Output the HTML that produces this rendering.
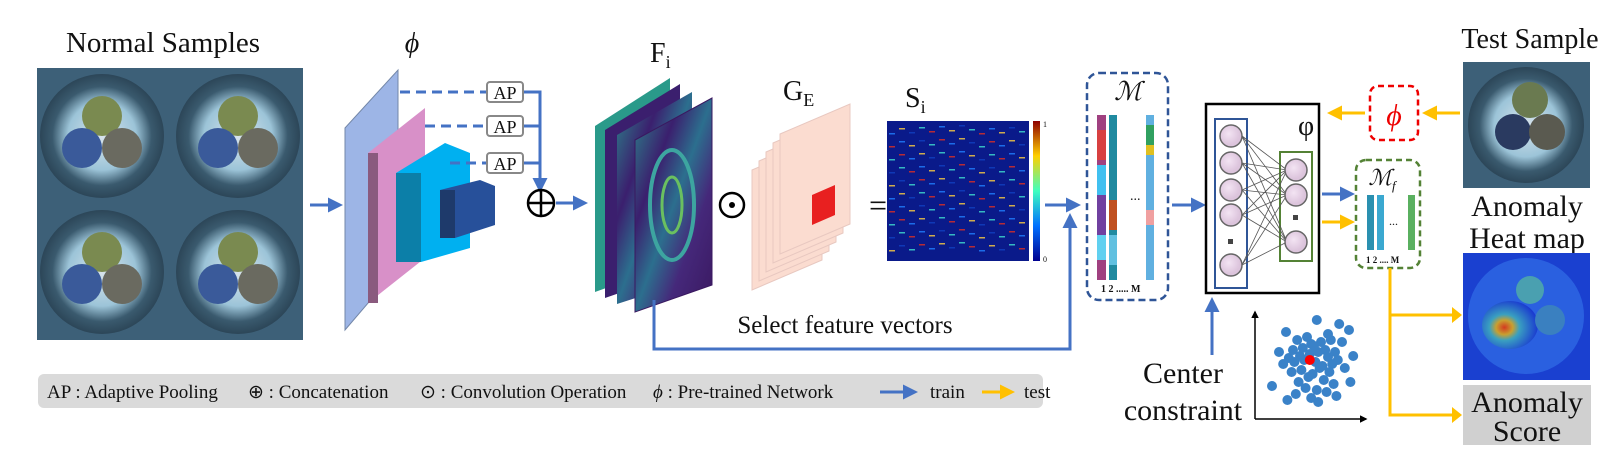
<!DOCTYPE html>
<html><head><meta charset="utf-8"><style>
html,body{margin:0;padding:0;background:#fff;width:1605px;height:464px;overflow:hidden}
svg{display:block}
text{font-family:"Liberation Serif",serif;fill:#111}
</style></head><body>
<svg id="fig" width="1605" height="464" viewBox="0 0 1605 464">
<defs>
<marker id="ab" viewBox="0 0 10 10" refX="8" refY="5" markerWidth="5" markerHeight="5" orient="auto"><path d="M0,0L10,5L0,10z" fill="#4472c4"/></marker>
<marker id="ay" viewBox="0 0 10 10" refX="8" refY="5" markerWidth="5" markerHeight="5" orient="auto"><path d="M0,0L10,5L0,10z" fill="#ffc000"/></marker>
<marker id="ak" viewBox="0 0 10 10" refX="8" refY="5" markerWidth="5" markerHeight="5" orient="auto"><path d="M0,0L10,5L0,10z" fill="#000"/></marker>
<radialGradient id="cable" cx="50%" cy="50%" r="50%"><stop offset="0" stop-color="#d8e4ec"/><stop offset="0.55" stop-color="#9cc4d8"/><stop offset="0.8" stop-color="#3a5a6e"/><stop offset="1" stop-color="#2c4658"/></radialGradient>
<linearGradient id="vir" x1="0" y1="0" x2="1" y2="1"><stop offset="0" stop-color="#2a8a8c"/><stop offset="0.3" stop-color="#3b1f6e"/><stop offset="0.5" stop-color="#2c6f8e"/><stop offset="0.7" stop-color="#45287a"/><stop offset="1" stop-color="#3a1860"/></linearGradient>
<linearGradient id="jet" x1="0" y1="1" x2="0" y2="0"><stop offset="0" stop-color="#00008f"/><stop offset="0.25" stop-color="#0070ff"/><stop offset="0.5" stop-color="#40ffbf"/><stop offset="0.75" stop-color="#ffd000"/><stop offset="1" stop-color="#8f0000"/></linearGradient>
<radialGradient id="heat" cx="40%" cy="55%" r="60%"><stop offset="0" stop-color="#d43a20"/><stop offset="0.25" stop-color="#c8a030"/><stop offset="0.45" stop-color="#3aa0c0"/><stop offset="1" stop-color="#1a3ad0"/></radialGradient>
<radialGradient id="node" cx="40%" cy="40%"><stop offset="0" stop-color="#f3e4f3"/><stop offset="1" stop-color="#dcc4dc"/></radialGradient>
</defs>

<text x="163" y="52" font-size="29" text-anchor="middle">Normal Samples</text>
<g>
<rect x="37" y="68" width="266" height="272" fill="#3d6078"/>
<g id="cells"></g>
</g>
<line x1="310" y1="205" x2="340" y2="205" stroke="#4472c4" stroke-width="3" marker-end="url(#ab)"/>

<text x="412" y="52" font-size="28" font-style="italic" text-anchor="middle">ϕ</text>
<g>
<polygon points="345,128 398,70 398,268 345,330" fill="#9db5e6" stroke="#7387a8"/>
<polygon points="368,153 425,108 425,258 368,303" fill="#d890c8"/>
<polygon points="368,153 378,153 378,303 368,303" fill="#8a5a7e"/>
<polygon points="396,173 445,143 470,153 470,248 421,262 396,262" fill="#00b0f0"/>
<rect x="396" y="173" width="25" height="89" fill="#0c7fa8"/>
<polygon points="440,190 480,180 495,186 495,225 455,238 440,238" fill="#27509a"/>
<rect x="440" y="190" width="15" height="48" fill="#1e3a6b"/>
</g>
<g stroke="#4472c4" stroke-width="3" fill="none">
<line x1="400" y1="92" x2="486" y2="92" stroke-dasharray="10,6"/>
<line x1="425" y1="126" x2="486" y2="126" stroke-dasharray="10,6"/>
<line x1="450" y1="163" x2="486" y2="163" stroke-dasharray="10,6"/>
<path d="M523,92H540V190" marker-end="url(#ab)"/>
<path d="M523,126H540M523,163H540"/>
</g>
<g font-size="18" text-anchor="middle">
<rect x="487" y="82" width="36" height="20" rx="3" fill="#fff" stroke="#888" stroke-width="2"/><text x="505" y="99">AP</text>
<rect x="487" y="116" width="36" height="20" rx="3" fill="#fff" stroke="#888" stroke-width="2"/><text x="505" y="133">AP</text>
<rect x="487" y="153" width="36" height="20" rx="3" fill="#fff" stroke="#888" stroke-width="2"/><text x="505" y="170">AP</text>
</g>
<g stroke="#000" stroke-width="2.5" fill="none"><circle cx="541" cy="203" r="13"/><line x1="528" y1="203" x2="554" y2="203"/><line x1="541" y1="190" x2="541" y2="216"/></g>
<line x1="556" y1="203" x2="585" y2="203" stroke="#4472c4" stroke-width="3" marker-end="url(#ab)"/>

<text x="650" y="62" font-size="28">F<tspan font-size="18" dy="6">i</tspan></text>
<g>
<polygon points="595,126 670,78 670,265 595,292" fill="#2a9a8a"/>
<polygon points="605,130 680,84 680,272 605,298" fill="#3b1f6e"/>
<polygon points="617,135 692,92 692,280 617,304" fill="url(#vir)"/>
<polygon points="635,140 712,98 712,285 635,312" fill="url(#vir)" stroke="#3a1860"/>
<ellipse cx="672" cy="205" rx="22" ry="55" fill="none" stroke="#3da5a0" stroke-width="4"/>
<ellipse cx="672" cy="205" rx="10" ry="28" fill="none" stroke="#6ac060" stroke-width="3"/>
</g>
<g><circle cx="732" cy="205" r="12" fill="none" stroke="#000" stroke-width="2.5"/><circle cx="732" cy="205" r="3" fill="#000"/></g>

<text x="783" y="100" font-size="28">G<tspan font-size="18" dy="6">E</tspan></text>
<g id="kernel"></g>
<text x="878" y="216" font-size="32" text-anchor="middle">=</text>

<text x="905" y="107" font-size="28">S<tspan font-size="18" dy="6">i</tspan></text>
<g>
<rect x="887" y="121" width="142" height="140" fill="#0a1a8a"/>
<g id="mat"></g>
</g>
<rect x="1033" y="121" width="7" height="140" fill="url(#jet)"/>
<text x="1043" y="127" font-size="8">1</text><text x="1043" y="262" font-size="8">0</text>

<line x1="1045" y1="205" x2="1078" y2="205" stroke="#4472c4" stroke-width="3" marker-end="url(#ab)"/>
<path d="M654,300V349H1070V216" fill="none" stroke="#4472c4" stroke-width="3" marker-end="url(#ab)"/>
<text x="845" y="333" font-size="25" text-anchor="middle">Select feature vectors</text>

<rect x="1087" y="73" width="81" height="227" rx="12" fill="none" stroke="#2f5597" stroke-width="2.5" stroke-dasharray="7,4"/>
<text x="1128" y="100" font-size="26" font-style="italic" text-anchor="middle" font-family="DejaVu Serif">ℳ</text>
<g>
<rect x="1097" y="115" width="9" height="165" fill="#a04080"/><rect x="1097" y="130" width="9" height="30" fill="#d84040"/><rect x="1097" y="165" width="9" height="30" fill="#40c0f0"/><rect x="1097" y="195" width="9" height="40" fill="#7040a0"/><rect x="1097" y="235" width="9" height="25" fill="#60d0f0"/>
<rect x="1109" y="115" width="8" height="165" fill="#208aa0"/><rect x="1109" y="200" width="8" height="30" fill="#c05020"/><rect x="1109" y="235" width="8" height="30" fill="#60c0e0"/>
<rect x="1146" y="115" width="8" height="165" fill="#60b0e0"/><rect x="1146" y="125" width="8" height="20" fill="#30a060"/><rect x="1146" y="145" width="8" height="10" fill="#e0c020"/><rect x="1146" y="210" width="8" height="15" fill="#f0a0a0"/>
<text x="1130" y="200" font-size="14" font-family="Liberation Sans">...</text>
<text x="1101" y="292" font-size="10" font-family="Liberation Sans" font-weight="bold">1  2  .....  M</text>
</g>
<line x1="1172" y1="205" x2="1203" y2="205" stroke="#4472c4" stroke-width="3" marker-end="url(#ab)"/>

<g>
<rect x="1206" y="104" width="113" height="189" fill="#fff" stroke="#000" stroke-width="2.5"/>
<rect x="1215" y="119" width="32" height="169" fill="none" stroke="#2f5597" stroke-width="2"/>
<rect x="1280" y="152" width="32" height="109" fill="none" stroke="#548235" stroke-width="2"/>
<g id="net"></g>
<rect x="1228" y="239" width="5" height="5" fill="#444"/><rect x="1293" y="215" width="5" height="5" fill="#444"/>
<text x="1298" y="135" font-size="28" font-family="DejaVu Serif">φ</text>
</g>
<line x1="1212" y1="355" x2="1212" y2="300" stroke="#4472c4" stroke-width="3" marker-end="url(#ab)"/>
<text x="1183" y="383" font-size="30" text-anchor="middle">Center</text>
<text x="1183" y="420" font-size="30" text-anchor="middle">constraint</text>
<g>
<line x1="1255" y1="419" x2="1255" y2="312" stroke="#000" stroke-width="1.5" marker-end="url(#ak)"/>
<line x1="1255" y1="419" x2="1366" y2="419" stroke="#000" stroke-width="1.5" marker-end="url(#ak)"/>
<g id="pts"></g>
</g>

<line x1="1460" y1="113" x2="1425" y2="113" stroke="#ffc000" stroke-width="3" marker-end="url(#ay)"/>
<rect x="1370" y="86" width="48" height="54" rx="8" fill="none" stroke="#e00" stroke-width="2.5" stroke-dasharray="6,4"/>
<text x="1394" y="125" font-size="30" font-style="italic" text-anchor="middle" style="fill:#e00">ϕ</text>
<line x1="1365" y1="113" x2="1330" y2="113" stroke="#ffc000" stroke-width="3" marker-end="url(#ay)"/>
<line x1="1322" y1="194" x2="1352" y2="194" stroke="#4472c4" stroke-width="3" marker-end="url(#ab)"/>
<line x1="1322" y1="222" x2="1352" y2="222" stroke="#ffc000" stroke-width="3" marker-end="url(#ay)"/>
<rect x="1356" y="160" width="64" height="108" rx="10" fill="none" stroke="#548235" stroke-width="2.5" stroke-dasharray="6,4"/>
<text x="1382" y="185" font-size="22" font-style="italic" text-anchor="middle" font-family="DejaVu Serif">ℳ<tspan font-size="13" dy="5">f</tspan></text>
<g>
<rect x="1367" y="195" width="7" height="55" fill="#2a90b0"/><rect x="1377" y="195" width="7" height="55" fill="#3aa8d0"/><rect x="1408" y="195" width="7" height="55" fill="#5ab060"/>
<text x="1389" y="225" font-size="12" font-family="Liberation Sans">...</text>
<text x="1366" y="263" font-size="9" font-family="Liberation Sans" font-weight="bold">1  2  ....  M</text>
</g>
<path d="M1390,268V415H1458M1390,315H1458" fill="none" stroke="#ffc000" stroke-width="3"/>
<path d="M1452,307L1462,315L1452,323zM1452,407L1462,415L1452,423z" fill="#ffc000"/>

<text x="1530" y="48" font-size="28" text-anchor="middle">Test Sample</text>
<g>
<rect x="1463" y="62" width="127" height="126" fill="#3d6078"/>
<circle cx="1526" cy="125" r="58" fill="url(#cable)"/>
<circle cx="1530" cy="100" r="18" fill="#6a7a50"/><circle cx="1513" cy="132" r="18" fill="#2a3a60"/><circle cx="1547" cy="132" r="18" fill="#5a5a50"/>
</g>
<text x="1527" y="216" font-size="30" text-anchor="middle">Anomaly</text>
<text x="1527" y="248" font-size="30" text-anchor="middle">Heat map</text>
<g>
<rect x="1463" y="253" width="127" height="127" fill="#1a40d0"/>
<circle cx="1526" cy="316" r="58" fill="#2a60e0"/>
<ellipse cx="1510" cy="325" rx="28" ry="24" fill="url(#heat)"/>
<circle cx="1530" cy="290" r="14" fill="#4aa0b0"/>
<circle cx="1550" cy="320" r="15" fill="#3a80c0"/>
</g>
<rect x="1463" y="385" width="128" height="60" fill="#d0d0d0"/>
<text x="1527" y="412" font-size="30" text-anchor="middle">Anomaly</text>
<text x="1527" y="441" font-size="30" text-anchor="middle">Score</text>

<g>
<rect x="38" y="374" width="1005" height="34" rx="6" fill="#dadada"/>
<text x="47" y="398" font-size="19">AP : Adaptive Pooling</text>
<text x="248" y="398" font-size="19">⊕ : Concatenation</text>
<text x="420" y="398" font-size="19">⊙ : Convolution Operation</text>
<text x="653" y="398" font-size="19"><tspan font-style="italic">ϕ</tspan> : Pre-trained Network</text>
<line x1="880" y1="392" x2="915" y2="392" stroke="#4472c4" stroke-width="3" marker-end="url(#ab)"/>
<text x="930" y="398" font-size="19">train</text>
<line x1="982" y1="392" x2="1012" y2="392" stroke="#ffc000" stroke-width="3" marker-end="url(#ay)"/>
<text x="1024" y="398" font-size="19" text-anchor="start">test</text>
</g>
</svg>
<script>
const NS='http://www.w3.org/2000/svg';
function mk(p,t,a){const e=document.createElementNS(NS,t);for(const k in a)e.setAttribute(k,a[k]);p.appendChild(e);return e;}
const tileCx=[102,238,102,238];
const tileCy=[136,136,272,272];
const cells=document.getElementById('cells');
for(let i=0;i<4;i++){
  const g=mk(cells,'g',{});
  
  
  mk(g,'circle',{cx:tileCx[i],cy:tileCy[i],r:62,fill:'url(#cable)'});
  mk(g,'circle',{cx:tileCx[i],cy:tileCy[i]-20,r:20,fill:'#7a8a50'});
  mk(g,'circle',{cx:tileCx[i]-20,cy:tileCy[i]+12,r:20,fill:'#3a5a9a'});
  mk(g,'circle',{cx:tileCx[i]+20,cy:tileCy[i]+12,r:20,fill:'#6a6a60'});
}
const kern=document.getElementById('kernel');
const kOff=[0,1,2,3,4];
for(const o of kOff){
  const x=752+o*7,y=170-o*9;
  mk(kern,'polygon',{points:`${x},${y} ${x+70},${y-30} ${x+70},${y+90} ${x},${y+120}`,fill:'#fbdcd0',stroke:'#e8c8c0'});
}
mk(kern,'polygon',{points:'812,195 835,185 835,215 812,225',fill:'#e82020'});
const matRows=[12,25,38,51,64,77,90,103,116,129];
const mat=document.getElementById('mat');
const cols=['#2080ff','#40e0d0','#ffd040','#e03020','#1040c0'];
matRows.forEach((r,i)=>{for(let j=0;j<14;j++){const c=cols[(i*3+j*7)%5];mk(mat,'rect',{x:889+j*10,y:121+r-((j*5)%9),width:6,height:1.5,fill:c,opacity:0.8});}});
const net=document.getElementById('net');
const inY=[136,163,190,215,265];
const outY=[170,195,242];
inY.forEach(a=>outY.forEach(b=>mk(net,'line',{x1:1242,y1:a,x2:1287,y2:b,stroke:'#555','stroke-width':0.8})));
inY.forEach(a=>mk(net,'circle',{cx:1231,cy:a,r:11,fill:'url(#node)',stroke:'#666','stroke-width':1.5}));
outY.forEach(a=>mk(net,'circle',{cx:1296,cy:a,r:11,fill:'url(#node)',stroke:'#666','stroke-width':1.5}));
// scatter data (axis units 0-100)
const ptX=[62,78,40,85,55,70,48,65,58,72,80,45,35,52,60,68,75,88,42,50,57,63,70,77,38,46,53,61,66,73,82,44,51,59,64,71,56,49,67,74,30,86,62,54,69,47,58,76,41,63];
const ptY=[92,88,80,82,75,78,72,70,68,72,70,62,60,64,66,62,60,56,54,56,58,60,55,52,48,50,52,50,46,48,44,40,42,38,44,40,35,30,32,28,26,30,22,24,20,18,14,16,12,10];
const sx=v=>1230+v*1.4, sy=v=>412-v*1.0;
const pts=document.getElementById('pts');
for(let i=0;i<ptX.length;i++){
  const c=mk(pts,'circle',{cx:sx(ptX[i]),cy:sy(ptY[i]),r:5,fill:'#3a82c8'});
  
  
}
const ctr=mk(pts,'circle',{cx:sx(57),cy:sy(52),r:5,fill:'#f00'});


</script>
</body></html>
